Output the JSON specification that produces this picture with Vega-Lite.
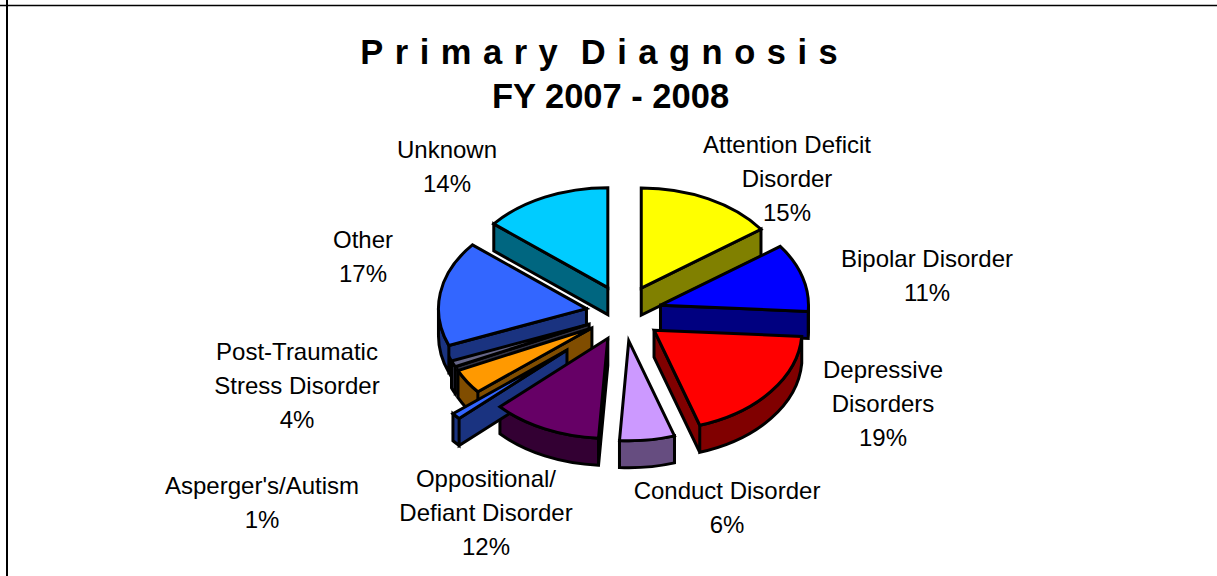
{
  "$schema": "https://vega.github.io/schema/vega-lite/v6.json",
  "width": 1217,
  "height": 576,
  "padding": 0,
  "autosize": {"type": "none"},
  "background": "white",
  "view": {"stroke": null},
  "title": {
    "text": ["P\u2004r\u2004i\u2004m\u2004a\u2004r\u2004y\u2004\u2004D\u2004i\u2004a\u2004g\u2004n\u2004o\u2004s\u2004i\u2004s\u2004\u2004\u200b", "FY 2007 - 2008"],
    "font": "Liberation Sans",
    "fontSize": 34.5,
    "fontWeight": "bold",
    "lineHeight": 44,
    "color": "black",
    "anchor": "middle",
    "frame": "group",
    "orient": "top",
    "dx": 2,
    "offset": -116
  },
  "data": {
    "values": [
      {"category": "Attention Deficit Disorder", "label": "Attention Deficit\nDisorder\n15%", "value": 15},
      {"category": "Bipolar Disorder", "label": "Bipolar Disorder\n11%", "value": 11},
      {"category": "Depressive Disorders", "label": "Depressive\nDisorders\n19%", "value": 19},
      {"category": "Conduct Disorder", "label": "Conduct Disorder\n6%", "value": 6},
      {"category": "Oppositional/Defiant Disorder", "label": "Oppositional/\nDefiant Disorder\n12%", "value": 12},
      {"category": "Asperger's/Autism", "label": "Asperger's/Autism\n1%", "value": 1},
      {"category": "Post-Traumatic Stress Disorder", "label": "Post-Traumatic\nStress Disorder\n4%", "value": 4},
      {"category": "Unlabeled", "label": "", "value": 1},
      {"category": "Other", "label": "Other\n17%", "value": 17},
      {"category": "Unknown", "label": "Unknown\n14%", "value": 14}
    ]
  },
  "transform": [
    {"joinaggregate": [{"op": "sum", "field": "value", "as": "total"}]},
    {"window": [{"op": "sum", "field": "value", "as": "cum"}], "frame": [null, 0]},
    {"calculate": "(datum.cum-datum.value)/datum.total*2*PI", "as": "a1"},
    {"calculate": "datum.cum/datum.total*2*PI", "as": "a2"},
    {"calculate": "(datum.a1+datum.a2)/2", "as": "m"},
    {"calculate": "indexof(datum.category,'Asperger')===0?2:1", "as": "e"},
    {"calculate": "datum.e*38*sin(datum.m)", "as": "ax"},
    {"calculate": "-datum.e*28*cos(datum.m)", "as": "ay"},
    {"calculate": "round(14800*sin(datum.a1))/100", "as": "x1"},
    {"calculate": "round(-10000*cos(datum.a1))/100", "as": "y1"},
    {"calculate": "round(14800*sin(datum.a2))/100", "as": "x2"},
    {"calculate": "round(-10000*cos(datum.a2))/100", "as": "y2"},
    {"calculate": "max(datum.a1,PI/2)", "as": "b1"},
    {"calculate": "min(datum.a2,3*PI/2)", "as": "b2"},
    {"calculate": "round(14800*sin(datum.b1))/100", "as": "u1"},
    {"calculate": "round(-10000*cos(datum.b1))/100", "as": "v1"},
    {"calculate": "round(14800*sin(datum.b2))/100", "as": "u2"},
    {"calculate": "round(-10000*cos(datum.b2))/100", "as": "v2"},
    {"calculate": "'M0,0L'+datum.x1+','+datum.y1+'A148,100 0 0 1 '+datum.x2+','+datum.y2+'Z'", "as": "topPath"},
    {"calculate": "(sin(datum.a1)<0?'M0,0L'+datum.x1+','+datum.y1+'L'+datum.x1+','+(datum.y1+27)+'L0,27Z':'')+(sin(datum.a2)>0?'M0,0L'+datum.x2+','+datum.y2+'L'+datum.x2+','+(datum.y2+27)+'L0,27Z':'')+(datum.b1<datum.b2?'M'+datum.u1+','+datum.v1+'A148,100 0 0 1 '+datum.u2+','+datum.v2+'L'+datum.u2+','+(datum.v2+27)+'A148,100 0 0 0 '+datum.u1+','+(datum.v1+27)+'Z':'')", "as": "wallPath"},
    {"calculate": "{\"Attention Deficit Disorder\":[163,-168],\"Bipolar Disorder\":[303,-54],\"Depressive Disorders\":[259,57],\"Conduct Disorder\":[103,178],\"Oppositional/Defiant Disorder\":[-138,166],\"Asperger's/Autism\":[-362,173],\"Post-Traumatic Stress Disorder\":[-327,39],\"Unlabeled\":[0,0],\"Other\":[-261,-73],\"Unknown\":[-177,-163]}[datum.category]", "as": "labelAt"},
    {"calculate": "datum.labelAt[0]", "as": "lx"},
    {"calculate": "datum.labelAt[1]", "as": "ly"},
    {"calculate": "-617", "as": "frameLeft"},
    {"calculate": "-307.5", "as": "frameTop"}
  ],
  "encoding": {
    "x": {"field": "ax", "type": "quantitative", "scale": {"domain": [-624, 593], "nice": false, "zero": false}, "axis": null},
    "y": {"field": "ay", "type": "quantitative", "scale": {"domain": [-313, 263], "nice": false, "zero": false, "reverse": true}, "axis": null}
  },
  "layer": [
    {
      "mark": {"type": "point", "filled": true, "size": 4, "opacity": 1, "stroke": "black", "strokeWidth": 3},
      "encoding": {
        "shape": {"field": "wallPath", "type": "nominal", "scale": null, "legend": null},
        "order": {"field": "ay", "type": "quantitative"},
        "fill": {
          "field": "category", "type": "nominal", "legend": null,
          "scale": {
            "domain": ["Attention Deficit Disorder", "Bipolar Disorder", "Depressive Disorders", "Conduct Disorder", "Oppositional/Defiant Disorder", "Asperger's/Autism", "Post-Traumatic Stress Disorder", "Unlabeled", "Other", "Unknown"],
            "range": ["#808000", "#000080", "#800000", "#664D80", "#330033", "#1A3380", "#804D00", "#333344", "#1A3380", "#006680"]
          }
        }
      }
    },
    {
      "mark": {"type": "point", "filled": true, "size": 4, "opacity": 1, "stroke": "black", "strokeWidth": 3},
      "encoding": {
        "shape": {"field": "topPath", "type": "nominal", "scale": null, "legend": null},
        "order": {"field": "ay", "type": "quantitative"},
        "fill": {
          "field": "category", "type": "nominal", "legend": null,
          "scale": {
            "domain": ["Attention Deficit Disorder", "Bipolar Disorder", "Depressive Disorders", "Conduct Disorder", "Oppositional/Defiant Disorder", "Asperger's/Autism", "Post-Traumatic Stress Disorder", "Unlabeled", "Other", "Unknown"],
            "range": ["#FFFF00", "#0000FF", "#FF0000", "#CC99FF", "#660066", "#3366FF", "#FF9900", "#666688", "#3366FF", "#00CCFF"]
          }
        }
      }
    },
    {
      "transform": [{"filter": "datum.label !== ''"}],
      "mark": {"type": "text", "font": "Liberation Sans", "fontSize": 24, "lineHeight": 34, "lineBreak": "\n", "align": "center", "baseline": "middle", "dy": 1, "color": "black"},
      "encoding": {
        "x": {"field": "lx", "type": "quantitative"},
        "y": {"field": "ly", "type": "quantitative"},
        "text": {"field": "label", "type": "nominal"}
      }
    },
    {
      "transform": [{"filter": "datum.category === 'Unknown'"}],
      "mark": {"type": "rule", "color": "black", "strokeWidth": 2, "opacity": 1},
      "encoding": {"x": {"field": "frameLeft", "type": "quantitative"}, "y": null}
    },
    {
      "transform": [{"filter": "datum.category === 'Unknown'"}],
      "mark": {"type": "rule", "color": "black", "strokeWidth": 1.5, "opacity": 1},
      "encoding": {"y": {"field": "frameTop", "type": "quantitative"}, "x": null}
    }
  ],
  "resolve": {"scale": {"fill": "independent"}}
}
